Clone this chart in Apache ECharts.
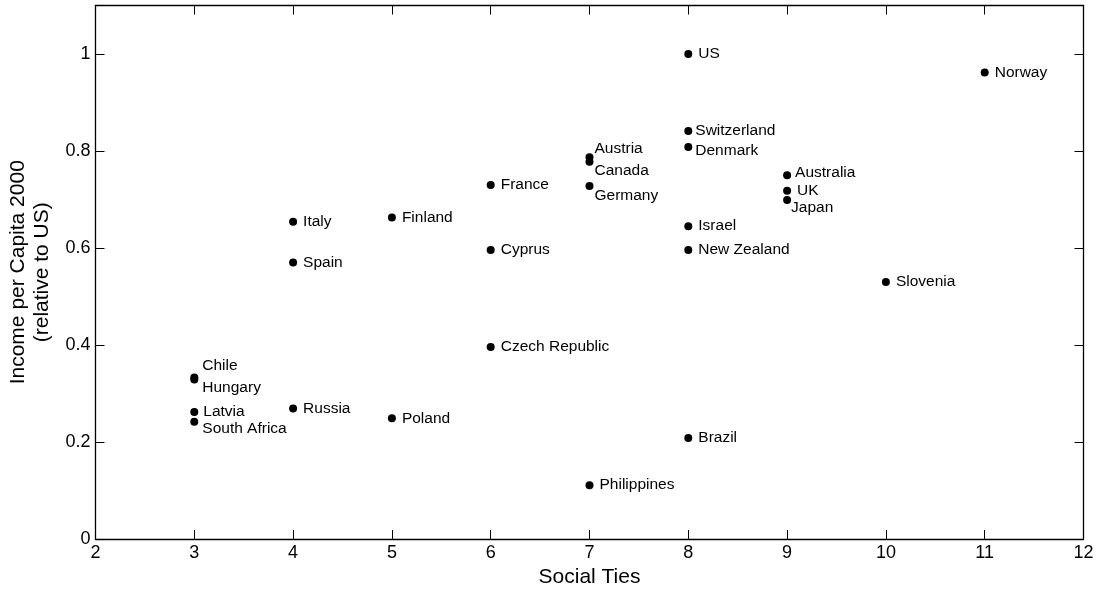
<!DOCTYPE html>
<html>
<head>
<meta charset="utf-8">
<script src="https://cdn.jsdelivr.net/npm/echarts@6/dist/echarts.min.js"></script>
<style>html,body{margin:0;padding:0;background:#fff}#c{width:1099px;height:592px}</style>
</head>
<body>
<div id="c"></div>
<script>
const countries = ['US','Norway','Switzerland','Denmark','Austria','Canada','Germany','France','Australia','UK','Japan','Israel','New Zealand','Italy','Finland','Spain','Cyprus','Slovenia','Czech Republic','Chile','Hungary','Latvia','South Africa','Russia','Poland','Brazil','Philippines'];
const socialTies = [8,11,8,8,7,7,7,6,9,9,9,8,8,4,5,4,6,10,6,3,3,3,3,4,5,8,7];
const income = [1.0,0.962,0.841,0.808,0.787,0.778,0.728,0.730,0.750,0.718,0.699,0.645,0.596,0.654,0.663,0.570,0.596,0.530,0.396,0.333,0.329,0.262,0.242,0.269,0.249,0.208,0.111];
const xTicks = [2,3,4,5,6,7,8,9,10,11,12];
const yTicks = [0,0.2,0.4,0.6,0.8,1];

// label placement tweaks (style only)
const labelOffsets = {
  'Austria':[-5,-9],'Canada':[-5,9],'Germany':[-5,10],'Japan':[-6,8],
  'Switzerland':[-3,0],'Denmark':[-3,4],'Australia':[-2,-3],
  'Chile':[-2,-12],'Hungary':[-2,8],'Latvia':[-1,0],'South Africa':[-2,7]
};

const FONT = 'Liberation Sans';
const data = countries.map((n,i)=>({
  name:n, value:[socialTies[i], income[i]],
  label:{offset: labelOffsets[n] || [0,0]}
}));

const chart = echarts.init(document.getElementById('c'));
const axisCommon = {
  axisLine:{show:true,onZero:false,lineStyle:{color:'#000',width:1.3}},
  axisTick:{show:true,inside:true,length:9,lineStyle:{color:'#000',width:1}},
  splitLine:{show:false}
};
chart.setOption({
  animation:false,
  backgroundColor:'#fff',
  grid:{left:95.5,right:15.5,top:5.5,bottom:53,containLabel:false,outerBoundsMode:'none'},
  xAxis:[
    Object.assign({type:'value',position:'bottom',min:2,max:12,interval:1,
      name:'Social Ties',nameLocation:'middle',nameGap:28,
      nameTextStyle:{fontFamily:FONT,fontSize:21,color:'#000'},
      axisLabel:{fontFamily:FONT,fontSize:18,color:'#000',margin:5,
        formatter:v=>xTicks.includes(v)?String(v):''}},axisCommon),
    Object.assign({type:'value',position:'top',min:2,max:12,interval:1,
      axisLabel:{show:false}},axisCommon)
  ],
  yAxis:[
    Object.assign({type:'value',position:'left',min:0,max:1.1,interval:0.2,
      name:'Income per Capita 2000\n(relative to US)',nameLocation:'middle',nameGap:38.5,
      nameTextStyle:{fontFamily:FONT,fontSize:21,color:'#000',lineHeight:24},
      axisLabel:{fontFamily:FONT,fontSize:18,color:'#000',margin:5,showMaxLabel:false,
        formatter:v=>{const t=yTicks.find(k=>Math.abs(k-v)<1e-9);return t===undefined?'':String(t);}}},axisCommon),
    Object.assign({type:'value',position:'right',min:0,max:1.1,interval:0.2,
      axisLabel:{show:false}},axisCommon)
  ],
  series:[{
    type:'scatter',
    symbol:'circle',symbolSize:8,
    itemStyle:{color:'#000',opacity:1},
    data:data,
    label:{show:true,position:'right',distance:6,formatter:p=>p.name,
      fontFamily:FONT,fontSize:15.5,color:'#000'}
  }]
});
</script>
</body>
</html>
